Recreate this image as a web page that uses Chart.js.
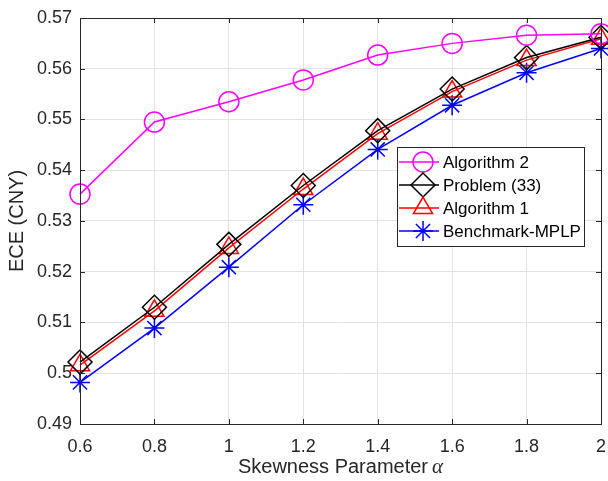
<!DOCTYPE html>
<html>
<head>
<meta charset="utf-8">
<script src="https://cdn.jsdelivr.net/npm/chart.js@4"></script>
<style>
  html, body { margin: 0; padding: 0; background: #fff; }
  #wrap { width: 608px; height: 481px; position: relative; }
</style>
</head>
<body>
<div id="wrap"><canvas id="ece"></canvas></div>
<script>
// skewness parameter alpha
var alphas = [0.6, 0.8, 1.0, 1.2, 1.4, 1.6, 1.8, 2.0];
var yTicks = [0.49, 0.50, 0.51, 0.52, 0.53, 0.54, 0.55, 0.56, 0.57];

var alg2 = [0.5353, 0.5495, 0.5535, 0.5578, 0.5627, 0.5650, 0.5666, 0.5669];
var prob33 = [0.5022, 0.5130, 0.5254, 0.5370, 0.5478, 0.5560, 0.5622, 0.5662];
var alg1 = [0.5016, 0.5123, 0.5247, 0.5363, 0.5472, 0.5555, 0.5617, 0.5659];
var mplp = [0.4982, 0.5089, 0.5209, 0.5332, 0.5441, 0.5528, 0.5592, 0.5640];

var xTitle = 'Skewness Parameter';
var xSymbol = 'α';

function pts(vals) {
  var out = [];
  for (var i in vals) out.push({x: alphas[i], y: vals[i]});
  return out;
}

var font = "'Liberation Sans', Arial, Helvetica, sans-serif";
var serif = "'Liberation Serif', 'DejaVu Serif', serif";
var dark = '#262626';
var clear = 'rgba(0,0,0,0)';

function ds(label, vals, color, style, r) {
  return {
    label: label,
    data: pts(vals),
    borderColor: color,
    backgroundColor: clear,
    borderWidth: 1.5,
    pointStyle: style,
    pointRadius: r,
    pointHoverRadius: r,
    pointBorderColor: color,
    pointBackgroundColor: clear,
    pointBorderWidth: 1.5,
    tension: 0,
    clip: false
  };
}

// box, inward ticks, x title and the legend, drawn matlab-style
var boxPlugin = {
  id: 'boxPlugin',
  afterDraw: function(chart) {
    var c = chart.ctx, a = chart.chartArea;
    var xs = chart.scales.x, ys = chart.scales.y;
    c.save();
    c.strokeStyle = dark;
    c.lineWidth = 1;
    c.strokeRect(a.left + 0.5, a.top + 0.5, a.right - a.left, a.bottom - a.top);
    c.beginPath();
    for (var i in alphas) {
      var px = Math.round(xs.getPixelForValue(alphas[i])) + 0.5;
      c.moveTo(px, a.bottom); c.lineTo(px, a.bottom - 5);
      c.moveTo(px, a.top); c.lineTo(px, a.top + 5);
    }
    for (var j in yTicks) {
      var py = Math.round(ys.getPixelForValue(yTicks[j])) + 0.5;
      c.moveTo(a.left, py); c.lineTo(a.left + 5, py);
      c.moveTo(a.right, py); c.lineTo(a.right - 5, py);
    }
    c.stroke();

    // x axis title with italic alpha
    c.fillStyle = dark;
    c.textBaseline = 'middle';
    c.textAlign = 'left';
    c.font = '20px ' + font;
    var w1 = c.measureText(xTitle).width;
    c.font = 'italic 21px ' + serif;
    var w2 = c.measureText(xSymbol).width;
    var sx = (a.left + a.right) / 2 - (w1 + 4 + w2) / 2;
    c.font = '20px ' + font;
    c.fillText(xTitle, sx, 467);
    c.font = 'italic 21px ' + serif;
    c.fillText(xSymbol, sx + w1 + 4, 467);

    // legend
    var lx = 397, ly = 147, lw = 187, lh = 99;
    c.fillStyle = '#fff';
    c.fillRect(lx, ly, lw, lh);
    c.strokeStyle = dark;
    c.strokeRect(lx + 0.5, ly + 0.5, lw, lh);
    var sets = chart.data.datasets;
    for (var k = 0; k < sets.length; k++) {
      var d = sets[k];
      var cy = ly + 15 + k * 23;
      c.strokeStyle = d.borderColor;
      c.fillStyle = clear;
      c.lineWidth = 1.5;
      c.beginPath();
      c.moveTo(lx + 2, cy); c.lineTo(lx + 42, cy);
      c.stroke();
      Chart.helpers.drawPoint(c, {pointStyle: d.pointStyle, radius: d.pointRadius, borderWidth: 1.5}, lx + 26, cy);
      c.fillStyle = '#000';
      c.font = '17px ' + font;
      c.fillText(d.label, lx + 46, cy + 1);
    }
    c.restore();
  }
};

new Chart(document.getElementById('ece'), {
  type: 'line',
  data: {
    datasets: [
      ds('Algorithm 2', alg2, '#ff00ff', 'circle', 10),
      ds('Problem (33)', prob33, '#000000', 'rectRot', 12),
      ds('Algorithm 1', alg1, '#ff0000', 'triangle', 11),
      ds('Benchmark-MPLP', mplp, '#0000ff', 'star', 10)
    ]
  },
  options: {
    responsive: true,
    maintainAspectRatio: false,
    animation: false,
    events: [],
    layout: { autoPadding: false, padding: { top: 18, right: 7, left: 0, bottom: 0 } },
    plugins: { legend: { display: false }, tooltip: { enabled: false } },
    scales: {
      x: {
        type: 'linear',
        min: 0.6, max: 2,
        afterBuildTicks: function(s) { s.ticks = alphas.map(function(v) { return {value: v}; }); },
        afterFit: function(s) { s.height = 57; s.paddingRight = 0; s.paddingLeft = 0; },
        ticks: { color: dark, font: { family: font, size: 18 }, padding: 12, maxRotation: 0,
                 callback: function(v) { return String(Math.round(v * 10) / 10); } },
        grid: { color: '#e3e3e3', drawTicks: false },
        border: { display: false },
        title: { display: false }
      },
      y: {
        min: 0.49, max: 0.57,
        afterBuildTicks: function(s) { s.ticks = yTicks.map(function(v) { return {value: v}; }); },
        afterFit: function(s) { s.width = 80; s.paddingTop = 0; s.paddingBottom = 0; },
        ticks: { color: dark, font: { family: font, size: 18 }, padding: 8,
                 callback: function(v) { return String(Math.round(v * 100) / 100); } },
        grid: { color: '#e3e3e3', drawTicks: false },
        border: { display: false },
        title: { display: true, text: 'ECE (CNY)', color: dark,
                 font: { family: font, size: 20 }, padding: 5 }
      }
    }
  },
  plugins: [boxPlugin]
});
</script>
</body>
</html>
